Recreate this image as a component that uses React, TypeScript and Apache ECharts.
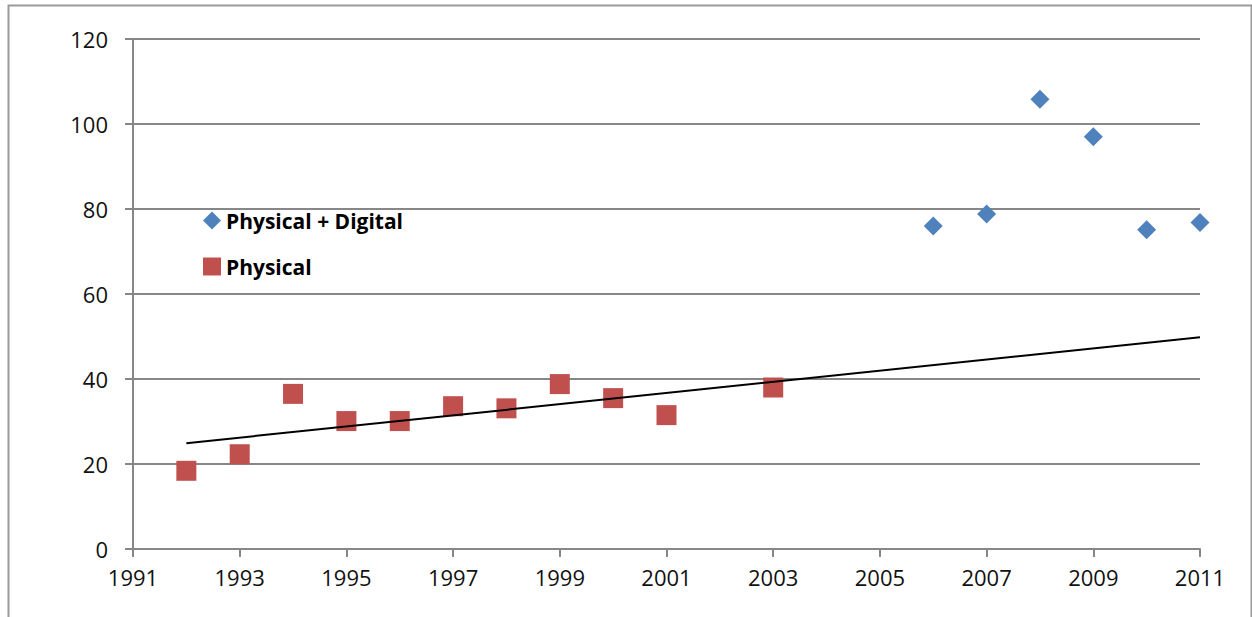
import React, { useEffect, useRef } from "react";
import * as echarts from "echarts";

const xTicks = [1991, 1993, 1995, 1997, 1999, 2001, 2003, 2005, 2007, 2009, 2011];
const yTicks = [0, 20, 40, 60, 80, 100, 120];

const physicalYears = [1992, 1993, 1994, 1995, 1996, 1997, 1998, 1999, 2000, 2001, 2003];
const physicalValues = [18.4, 22.3, 36.5, 30.1, 30.1, 33.6, 33.1, 38.8, 35.5, 31.5, 38.0];

const digitalYears = [2006, 2007, 2008, 2009, 2010, 2011];
const digitalValues = [76.0, 78.8, 105.8, 97.0, 75.1, 76.8];

const trendYears = [1992, 2011];
const trendValues = [24.9, 49.8];

const BLUE = "#4F81BD";
const RED = "#C0504D";
const GRID = "#878787";
const FONT = "Open Sans";

export default function App() {
  const ref = useRef<HTMLDivElement>(null);
  useEffect(() => {
    if (!ref.current) return;
    const chart = echarts.init(ref.current, null, { renderer: "svg" });
    chart.setOption({
      animation: false,
      backgroundColor: "#ffffff",
      grid: { left: 133, right: 52, top: 39, bottom: 68, containLabel: false },
      graphic: [
        {
          type: "rect",
          shape: { x: 8.5, y: 5.5, width: 1243, height: 640 },
          style: { fill: "none", stroke: "#9a9a9a", lineWidth: 2 },
          silent: true,
        },
      ],
      legend: {
        orient: "vertical",
        left: 198,
        top: 205,
        itemGap: 25,
        itemWidth: 18,
        itemHeight: 18,
        textStyle: { fontFamily: FONT, fontWeight: "bold", fontSize: 21, color: "#000" },
        data: [
          { name: "Physical + Digital", icon: "diamond" },
          { name: "Physical", icon: "rect" },
        ],
      },
      xAxis: {
        type: "value",
        min: 1991,
        max: 2011,
        interval: 2,
        axisLine: { show: true, onZero: false, lineStyle: { color: GRID, width: 2 } },
        axisTick: { show: true, length: 8, lineStyle: { color: GRID, width: 2 } },
        splitLine: { show: false },
        axisLabel: {
          margin: 17,
          fontFamily: FONT,
          fontSize: 22,
          color: "#111",
          formatter: (v: number) => (xTicks.includes(v) ? String(v) : ""),
        },
      },
      yAxis: {
        type: "value",
        min: 0,
        max: 120,
        interval: 20,
        axisLine: { show: true, lineStyle: { color: GRID, width: 2 } },
        axisTick: { show: true, length: 8, lineStyle: { color: GRID, width: 2 } },
        splitLine: { show: true, lineStyle: { color: GRID, width: 2 } },
        axisLabel: {
          margin: 25,
          fontFamily: FONT,
          fontSize: 22,
          color: "#111",
          formatter: (v: number) => (yTicks.includes(v) ? String(v) : ""),
        },
      },
      series: [
        {
          name: "Physical + Digital",
          type: "scatter",
          symbol: "diamond",
          symbolSize: 19,
          itemStyle: { color: BLUE, opacity: 1 },
          data: digitalYears.map((y, i) => [y, digitalValues[i]]),
          z: 3,
        },
        {
          name: "Physical",
          type: "scatter",
          symbol: "rect",
          symbolSize: 20,
          itemStyle: { color: RED, opacity: 1 },
          data: physicalYears.map((y, i) => [y, physicalValues[i]]),
          z: 2,
        },
        {
          name: "Trend",
          type: "line",
          symbol: "none",
          lineStyle: { color: "#000", width: 2 },
          data: trendYears.map((y, i) => [y, trendValues[i]]),
          z: 4,
        },
      ],
    });
    return () => chart.dispose();
  }, []);
  return (
    <div
      ref={ref}
      style={{ position: "fixed", left: 0, top: 0, width: 1252, height: 617 }}
    />
  );
}
